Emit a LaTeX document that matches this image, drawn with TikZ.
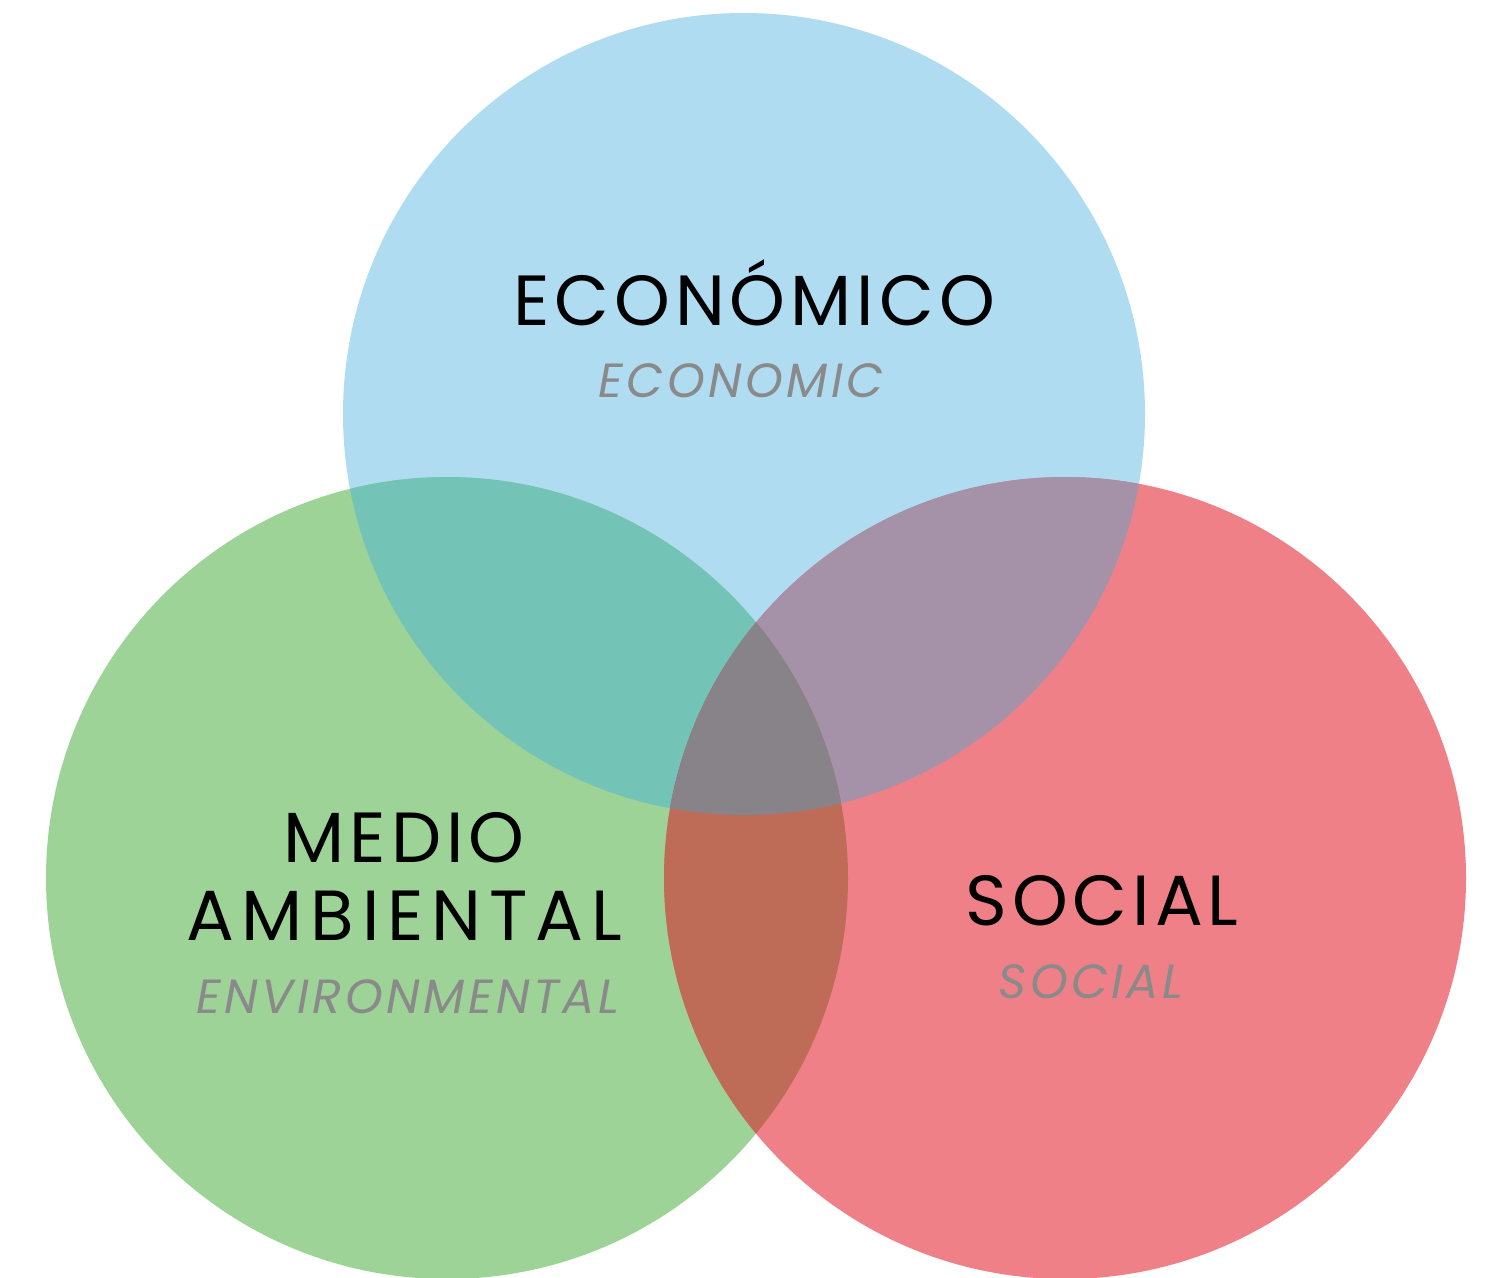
\documentclass[tikz,border=0pt]{standalone}
\usepackage{fontspec}
\setmainfont{Poppins}
\usetikzlibrary{positioning}

\definecolor{econblue}{HTML}{B0DCF2}
\definecolor{envgreen}{HTML}{9ED398}
\definecolor{socred}{HTML}{F08088}
\definecolor{econenv}{HTML}{74C3B7}
\definecolor{econsoc}{HTML}{A592A8}
\definecolor{envsoc}{HTML}{BE6C57}
\definecolor{allthree}{HTML}{888289}
\definecolor{subgrey}{HTML}{8A8A8A}

\tikzset{
  title/.style={font=\fontsize{71}{78}\selectfont\addfontfeature{LetterSpace=7}, text=black, inner sep=0pt, anchor=base},
  subtitle/.style={font=\fontsize{48}{52}\selectfont\itshape\addfontfeature{LetterSpace=7}, text=subgrey, inner sep=0pt, anchor=base},
}

\begin{document}
\begin{tikzpicture}[x=1pt,y=-1pt]
	 \useasboundingbox (0,0) rectangle (1485,1277);
	 \coordinate (econ) at (744,414);
	 \coordinate (env) at (447,878);
	 \coordinate (soc) at (1065,878);
	 % circles
	 \fill[econblue] (econ) circle (401pt);
	 \fill[envgreen] (env) circle (401pt);
	 \fill[socred] (soc) circle (401pt);
	 % overlaps
	 \begin{scope}
	 \clip (econ) circle (401pt);
	 \fill[econenv] (env) circle (401pt);
	 \fill[econsoc] (soc) circle (401pt);
	 \clip (env) circle (401pt);
	 \fill[allthree] (soc) circle (401pt);
	 \end{scope}
	 \begin{scope}
	 \clip (env) circle (401pt);
	 \clip (soc) circle (401pt);
	 \fill[envsoc] (0,0) rectangle (1485,1277);
	 \clip (econ) circle (401pt);
	 \fill[allthree] (0,0) rectangle (1485,1277);
	 \end{scope}
	 % labels
	 \node[title] (economico) at (754,325) {ECONÓMICO};
	 \node[subtitle] (economic) [below=72pt of economico.base, anchor=base, xshift=-13pt] {ECONOMIC};
	 \node[title] (medio) at (404,862) {MEDIO};
	 \node[title, font=\fontsize{71}{78}\selectfont\addfontfeature{LetterSpace=11}] (ambiental) [below=78pt of medio.base, anchor=base] {AMBIENTAL};
	 \node[subtitle] (environmental) [below=73pt of ambiental.base, anchor=base, xshift=4pt] {ENVIRONMENTAL};
	 \node[title] (social) at (1102,925) {SOCIAL};
	 \node[subtitle] (socialen) [below=73pt of social.base, anchor=base, xshift=-11pt] {SOCIAL};
\end{tikzpicture}
\end{document}
